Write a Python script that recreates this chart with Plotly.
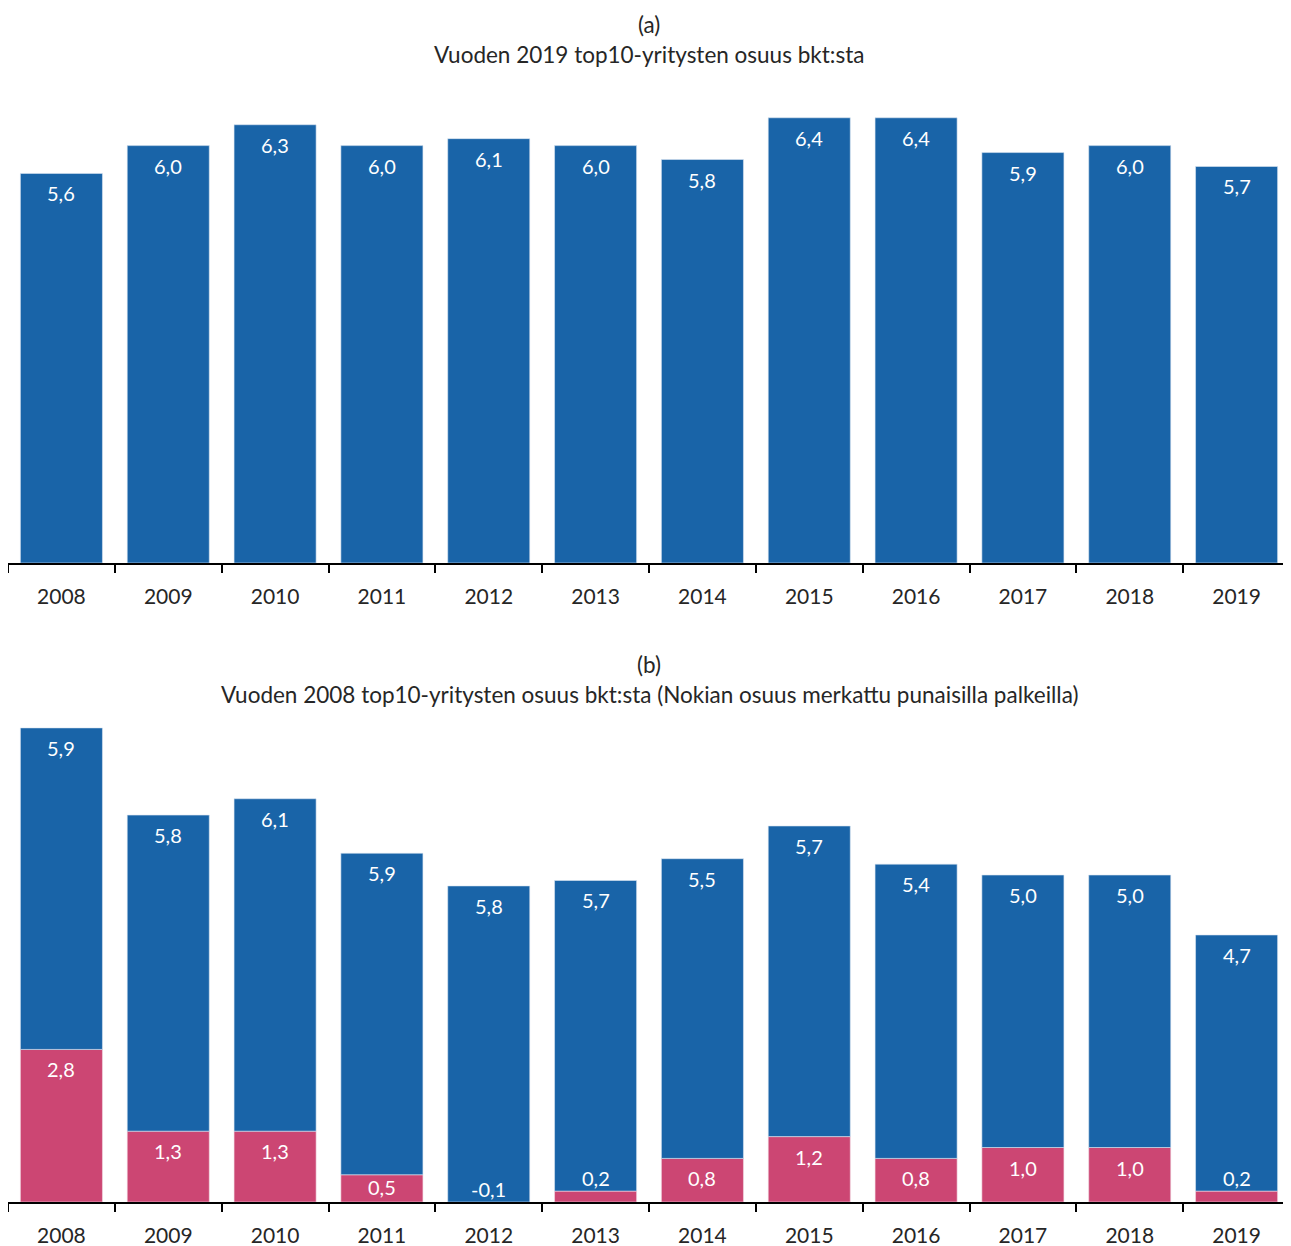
import plotly.graph_objects as go
from plotly.subplots import make_subplots

years = ["2008", "2009", "2010", "2011", "2012", "2013", "2014", "2015", "2016", "2017", "2018", "2019"]
top10_2019 = [5.6, 6.0, 6.3, 6.0, 6.1, 6.0, 5.8, 6.4, 6.4, 5.9, 6.0, 5.7]
nokia_share = [2.8, 1.3, 1.3, 0.5, -0.1, 0.2, 0.8, 1.2, 0.8, 1.0, 1.0, 0.2]
other_2008 = [5.9, 5.8, 6.1, 5.9, 5.8, 5.7, 5.5, 5.7, 5.4, 5.0, 5.0, 4.7]

title_a = ["(a)", "Vuoden 2019 top10-yritysten osuus bkt:sta"]
title_b = ["(b)", "Vuoden 2008 top10-yritysten osuus bkt:sta (Nokian osuus merkattu punaisilla palkeilla)"]

BLUE = "#1964A8"
RED = "#CC4673"
TXT = "#262626"
FONT = "Lato"
OFF = 8  # page body margin in the browser
W, H = 1291 - OFF, 1246 - OFF
ML, MR, MT, MB = 0, 1, 0, 44
PH = H - MT - MB


def py(p):
    # p: target pixel row in the screenshot
    f = p - OFF
    return (PH - (f - MT)) / PH


fig = make_subplots(rows=2, cols=1, vertical_spacing=0.1)

fig.add_trace(go.Bar(x=years, y=top10_2019, marker=dict(color=BLUE, line=dict(width=0.6, color="#DCE6F2")),
                     showlegend=False, hoverinfo="x+y"), row=1, col=1)
fig.add_trace(go.Bar(x=years, y=nokia_share, marker=dict(color=RED, line=dict(width=0.6, color="#F2DCE4")),
                     showlegend=False, hoverinfo="x+y"), row=2, col=1)
fig.add_trace(go.Bar(x=years, y=other_2008, marker=dict(color=BLUE, line=dict(width=0.6, color="#DCE6F2")),
                     showlegend=False, hoverinfo="x+y"), row=2, col=1)


def fmt(v):
    return f"{v:.1f}".replace(".", ",")


annotations = []
lab_font = dict(family=FONT, size=20, color="white")
for i, v in enumerate(top10_2019):
    annotations.append(dict(x=i, y=v, xref="x", yref="y", text=fmt(v), showarrow=False,
                            yanchor="middle", yshift=-20, font=lab_font))
for i, (r, b) in enumerate(zip(nokia_share, other_2008)):
    top = max(r, 0) + b
    annotations.append(dict(x=i, y=top, xref="x2", yref="y2", text=fmt(b), showarrow=False,
                            yanchor="middle", yshift=-20, font=lab_font))
    if r >= 0.65:
        ry, sh = r, -20
    elif r >= 0.4:
        ry, sh = 0, 15
    else:
        ry, sh = max(r, 0), 13
    annotations.append(dict(x=i, y=ry, xref="x2", yref="y2", text=fmt(r), showarrow=False,
                            yanchor="middle", yshift=sh, font=lab_font))

tfont = dict(family=FONT, size=22.5, color=TXT)
for txt, p in zip(title_a, [24, 54]):
    annotations.append(dict(x=0.5, y=py(p), xref="paper", yref="paper", text=txt, showarrow=False,
                            xanchor="center", yanchor="middle", font=tfont))
for txt, p in zip(title_b, [664, 694]):
    annotations.append(dict(x=0.5, y=py(p), xref="paper", yref="paper", text=txt, showarrow=False,
                            xanchor="center", yanchor="middle", font=tfont))

xaxis_common = dict(showline=True, linecolor="#000000", linewidth=2, ticks="outside", tickson="boundaries",
                    ticklen=8, tickwidth=2, tickcolor="#000000", showgrid=False, zeroline=False,
                    tickfont=dict(family=FONT, size=21, color=TXT), ticklabelstandoff=14,
                    type="category", range=[-0.5, len(years) - 0.5], tickangle=0, automargin=False,
                    fixedrange=True)
yaxis_common = dict(visible=False, showgrid=False, zeroline=False, fixedrange=True)

fig.update_layout(
    width=W, height=H,
    margin=dict(l=ML, r=MR, t=MT, b=MB),
    paper_bgcolor="white", plot_bgcolor="white",
    barmode="relative", bargap=0.232,
    annotations=annotations,
    xaxis=dict(**xaxis_common, domain=[0, 1], anchor="y"),
    xaxis2=dict(**xaxis_common, domain=[0, 1], anchor="y2"),
    yaxis=dict(**yaxis_common, domain=[py(563), py(83)], range=[0, 6.9], anchor="x"),
    yaxis2=dict(**yaxis_common, domain=[py(1202), py(717)], range=[0, 8.9], anchor="x2"),
    font=dict(family=FONT, color=TXT),
)

fig.write_html("out.html")
